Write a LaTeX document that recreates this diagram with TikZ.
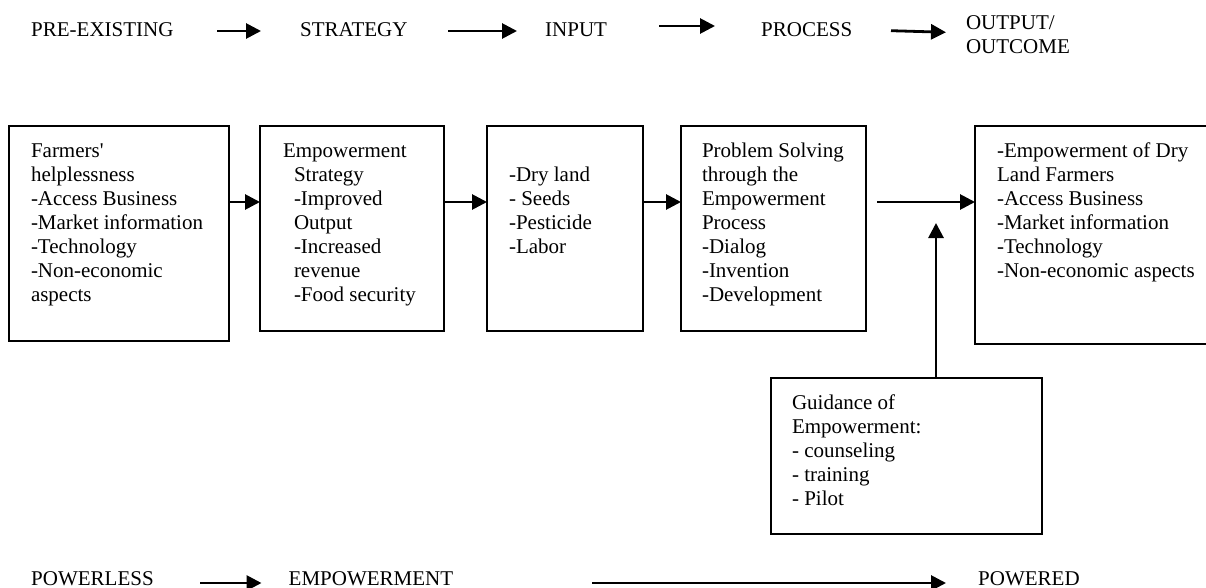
\documentclass[tikz,border=0pt]{standalone}
\usepackage{fontspec}
\setmainfont{Liberation Serif}[Ligatures=TeXOff]
\usetikzlibrary{arrows.meta}
\begin{document}
\begin{tikzpicture}[x=1pt,y=-1pt,
  lbl/.style={font=\fontsize{21}{24}\selectfont, inner sep=0pt, anchor=base west},
  body/.style={font=\fontsize{21}{24}\selectfont, inner sep=0pt, outer sep=0pt, anchor=north west, align=left},
  frame/.style={draw, line width=1.6pt, anchor=north west, inner sep=0pt, outer sep=0pt},
  arr/.style={line width=2.8pt, -{Triangle[length=15pt,width=15pt]}}
]
\useasboundingbox[fill=white] (0,0) rectangle (1206,588);

% ---- stage headings ----
\node[lbl] (pre) at (31,37) {PRE-EXISTING};
\node[lbl] (str) at (300,37) {STRATEGY};
\node[lbl] (inp) at (545,37) {INPUT};
\node[lbl] (pro) at (761,37) {PROCESS};
\node[body] (out) at (966,12.5) {\strut OUTPUT/\\OUTCOME};

\coordinate (h1a) at (217,31);  \coordinate (h1b) at (261,31);
\coordinate (h2a) at (448,31);  \coordinate (h2b) at (517,31);
\coordinate (h3a) at (659,26);  \coordinate (h3b) at (715,26);
\coordinate (h4a) at (891,30.7);\coordinate (h4b) at (946,32.3);
\draw[arr] (h1a) -- (h1b);
\draw[arr] (h2a) -- (h2b);
\draw[arr] (h3a) -- (h3b);
\draw[arr] (h4a) -- (h4b);

% ---- boxes ----
\node[frame, minimum width=220pt, minimum height=215pt] (b1) at (9,126) {};
\node[frame, minimum width=184pt, minimum height=205pt] (b2) at (260,126) {};
\node[frame, minimum width=156pt, minimum height=205pt] (b3) at (487,126) {};
\node[frame, minimum width=185pt, minimum height=205pt] (b4) at (681,126) {};
\node[frame, minimum width=245pt, minimum height=218pt] (b5) at (975,126) {};
\node[frame, minimum width=271pt, minimum height=156pt] (g) at (771,378) {};

% ---- box texts ----
\node[body] (t1) at (31,140.2) {\strut Farmers'\\helplessness\\-Access Business\\-Market information\\-Technology\\-Non-economic\\aspects};
\node[body] (t2) at (283,140.2) {\strut Empowerment\\\hspace*{11pt}Strategy\\\hspace*{11pt}-Improved\\\hspace*{11pt}Output\\\hspace*{11pt}-Increased\\\hspace*{11pt}revenue\\\hspace*{11pt}-Food security};
\node[body] (t3) at (509,164.2) {\strut -Dry land\\- Seeds\\-Pesticide\\-Labor};
\node[body] (t4) at (702,140.2) {\strut Problem Solving\\through the\\Empowerment\\Process\\-Dialog\\-Invention\\-Development};
\node[body] (t5) at (997,140.2) {\strut -Empowerment of Dry\\Land Farmers\\-Access Business\\-Market information\\-Technology\\-Non-economic aspects};
\node[body] (tg) at (792,392.2) {\strut Guidance of\\Empowerment:\\- counseling\\- training\\- Pilot};

% ---- connectors between boxes ----
\coordinate (row) at (0,202);
\coordinate (pst) at (877,202);
\coordinate (up) at (936,223);
\draw[arr] (b1.east |- row) -- (b2.west |- row);
\draw[arr] (b2.east |- row) -- (b3.west |- row);
\draw[arr] (b3.east |- row) -- (b4.west |- row);
\draw[arr] (pst) -- (b5.west |- pst);
\draw[arr] (g.north -| up) -- (up);

% ---- bottom line ----
\node[lbl] (pl) at (31,585.5) {POWERLESS};
\node[lbl] (em) at (288.5,585.5) {EMPOWERMENT};
\node[lbl] (pw) at (978,585.5) {POWERED};
\coordinate (l1a) at (200,583);  \coordinate (l1b) at (261.5,583);
\coordinate (l2a) at (592,583);  \coordinate (l2b) at (946,583);
\draw[arr] (l1a) -- (l1b);
\draw[arr] (l2a) -- (l2b);
\end{tikzpicture}
\end{document}
